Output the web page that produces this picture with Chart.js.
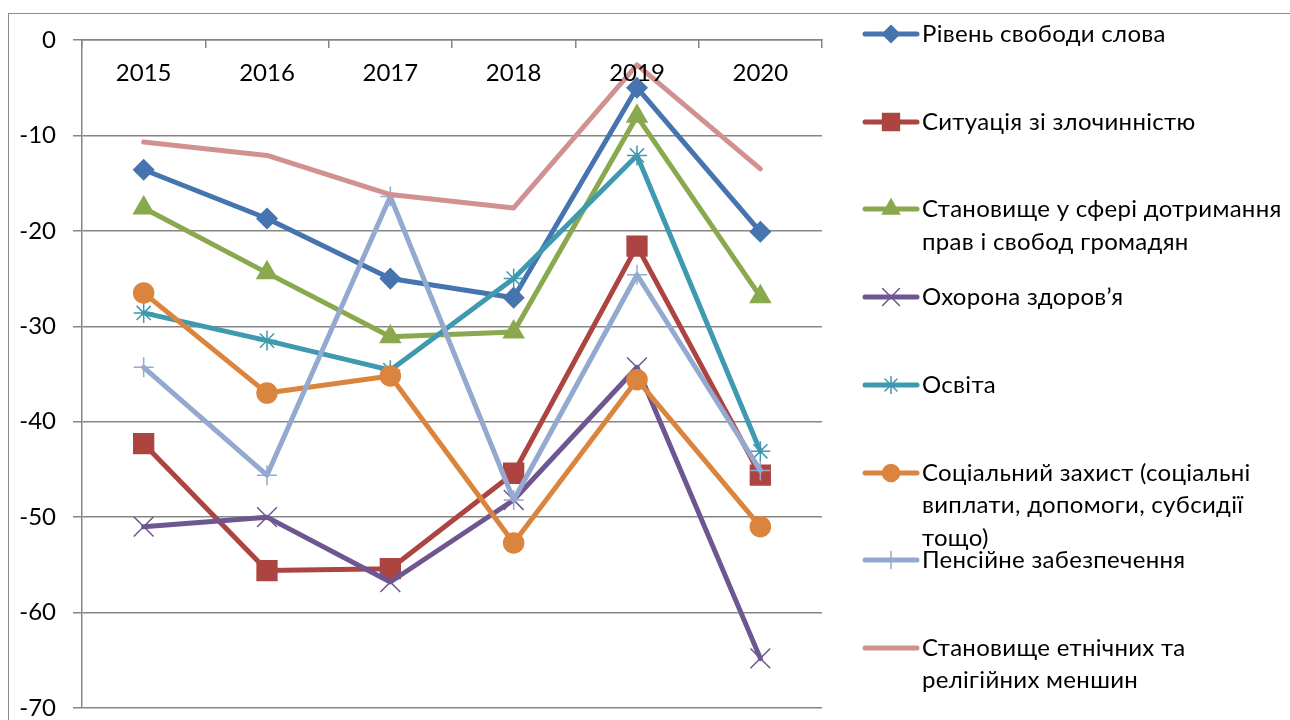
<!DOCTYPE html>
<html>
<head>
<meta charset="utf-8">
<script src="https://cdn.jsdelivr.net/npm/chart.js@4/dist/chart.umd.min.js"></script>
<style>
  html, body { margin: 0; padding: 0; background: #fff; }
  #wrap { position: relative; width: 1290px; height: 720px; overflow: hidden; font-family: Lato, 'Noto Sans', sans-serif; }
  #frame { position: absolute; left: 8px; top: 13px; width: 1300px; height: 720px; border-left: 1.5px solid #8c8c8c; border-top: 1.5px solid #8c8c8c; }
  #c { position: absolute; left: 0; top: 0; }
  .item { position: absolute; left: 860px; width: 430px; }
  .item canvas { position: absolute; left: 0; top: 4px; }
  .item div { position: absolute; left: 62px; top: 0; font-size: 24px; letter-spacing: 0.3px; line-height: 32.5px; color: #000; white-space: nowrap; }
</style>
</head>
<body>
<div id="wrap">
  <div id="frame"></div>
  <canvas id="c" width="1290" height="720"></canvas>
  <div id="legend"></div>
</div>
<script>
const years = ['2015', '2016', '2017', '2018', '2019', '2020'];

const freeSpeech = [-13.6, -18.7, -25.0, -27.0, -5.0, -20.1];
const crime = [-42.3, -55.6, -55.4, -45.4, -21.6, -45.6];
const rights = [-17.6, -24.4, -31.1, -30.6, -8.0, -26.9];
const health = [-51.0, -50.0, -56.8, -48.2, -34.3, -64.8];
const education = [-28.6, -31.5, -34.6, -25.0, -12.1, -43.1];
const socialProtection = [-26.5, -37.0, -35.2, -52.7, -35.6, -51.0];
const pensions = [-34.3, -45.6, -16.4, -48.2, -24.6, -45.1];
const minorities = [-10.7, -12.1, -16.2, -17.6, -2.6, -13.5];

// legend text, one entry per line as in the original
const seriesNames = [
  ['Рівень свободи слова'],
  ['Ситуація зі злочинністю'],
  ['Становище у сфері дотримання', 'прав і свобод громадян'],
  ['Охорона здоров’я'],
  ['Освіта'],
  ['Соціальний захист (соціальні', 'виплати, допомоги, субсидії', 'тощо)'],
  ['Пенсійне забезпечення'],
  ['Становище етнічних та', 'релігійних меншин'],
];
const seriesValues = [freeSpeech, crime, rights, health, education, socialProtection, pensions, minorities];

const styles = [
  { color: '#4674AE', point: 'rectRot', r: 10 },
  { color: '#AC4541', point: 'rect', r: 14 },
  { color: '#8AA84D', point: 'triangle', r: 11.5 },
  { color: '#6E5690', point: 'crossRot', r: 14 },
  { color: '#3F99AF', point: 'star', r: 10 },
  { color: '#DB843D', point: 'circle', r: 10 },
  { color: '#93A9CF', point: 'cross', r: 10 },
  { color: '#D19190', point: false, r: 0 },
];

const font = { family: "Lato, 'Noto Sans', sans-serif", size: 24 };
const gridGray = '#868686';

const chart = new Chart(document.getElementById('c'), {
  type: 'line',
  data: {
    labels: years,
    datasets: seriesValues.map((values, i) => ({
      label: seriesNames[i].join(' '),
      data: values,
      borderColor: styles[i].color,
      backgroundColor: styles[i].color,
      borderWidth: 5,
      borderCapStyle: 'round',
      borderJoinStyle: 'round',
      tension: 0,
      pointStyle: styles[i].point || 'circle',
      pointRadius: styles[i].r,
      pointBorderWidth: 1.5,
      pointBorderColor: styles[i].color,
      pointBackgroundColor: styles[i].color,
      order: -i,
    })),
  },
  options: {
    responsive: false,
    animation: false,
    layout: { autoPadding: false, padding: { left: 0, top: 40, right: 468, bottom: 12 } },
    plugins: { legend: { display: false }, tooltip: { enabled: false } },
    scales: {
      x: {
        position: 'top',
        offset: true,
        grid: { offset: true, drawOnChartArea: false, tickLength: -8, color: gridGray, lineWidth: 1.5 },
        border: { color: gridGray, width: 1.5 },
        // mirror keeps the labels from being clipped to the zero-height axis box
        ticks: { color: '#000', font, padding: 19, maxRotation: 0, mirror: true, z: 1 },
        afterFit: (scale) => { scale.height = 0; },
      },
      y: {
        min: -70,
        max: 0,
        ticks: { stepSize: 10, color: '#000', font, padding: 17 },
        grid: { color: gridGray, lineWidth: 1.5, tickLength: 9 },
        border: { color: gridGray, width: 1.5 },
        afterFit: (scale) => {
          scale.width = 82;
          // tick padding would otherwise push the plot bottom up
          scale.paddingTop = 0;
          scale.paddingBottom = 0;
        },
      },
    },
  },
});

// html legend, markers drawn with Chart.js' own point helper
const legend = document.getElementById('legend');
chart.data.datasets.forEach((set, i) => {
  const item = document.createElement('div');
  item.className = 'item';
  item.style.top = (33 + i * 87.7 - 16) + 'px';

  const cv = document.createElement('canvas');
  cv.width = 62;
  cv.height = 26;
  const ctx = cv.getContext('2d');
  ctx.strokeStyle = set.borderColor;
  ctx.fillStyle = set.borderColor;
  ctx.lineWidth = 5;
  ctx.lineCap = 'round';
  ctx.beginPath();
  ctx.moveTo(5, 13);
  ctx.lineTo(57, 13);
  ctx.stroke();
  if (styles[i].point && Chart.helpers && Chart.helpers.drawPoint) {
    ctx.lineWidth = 1.5;
    Chart.helpers.drawPoint(ctx, { pointStyle: styles[i].point, radius: styles[i].r * 0.85, borderWidth: 1.5, rotation: 0 }, 31, 13);
  }
  item.appendChild(cv);

  const text = document.createElement('div');
  text.innerHTML = seriesNames[i].join('<br>');
  item.appendChild(text);
  legend.appendChild(item);
});
</script>
</body>
</html>
